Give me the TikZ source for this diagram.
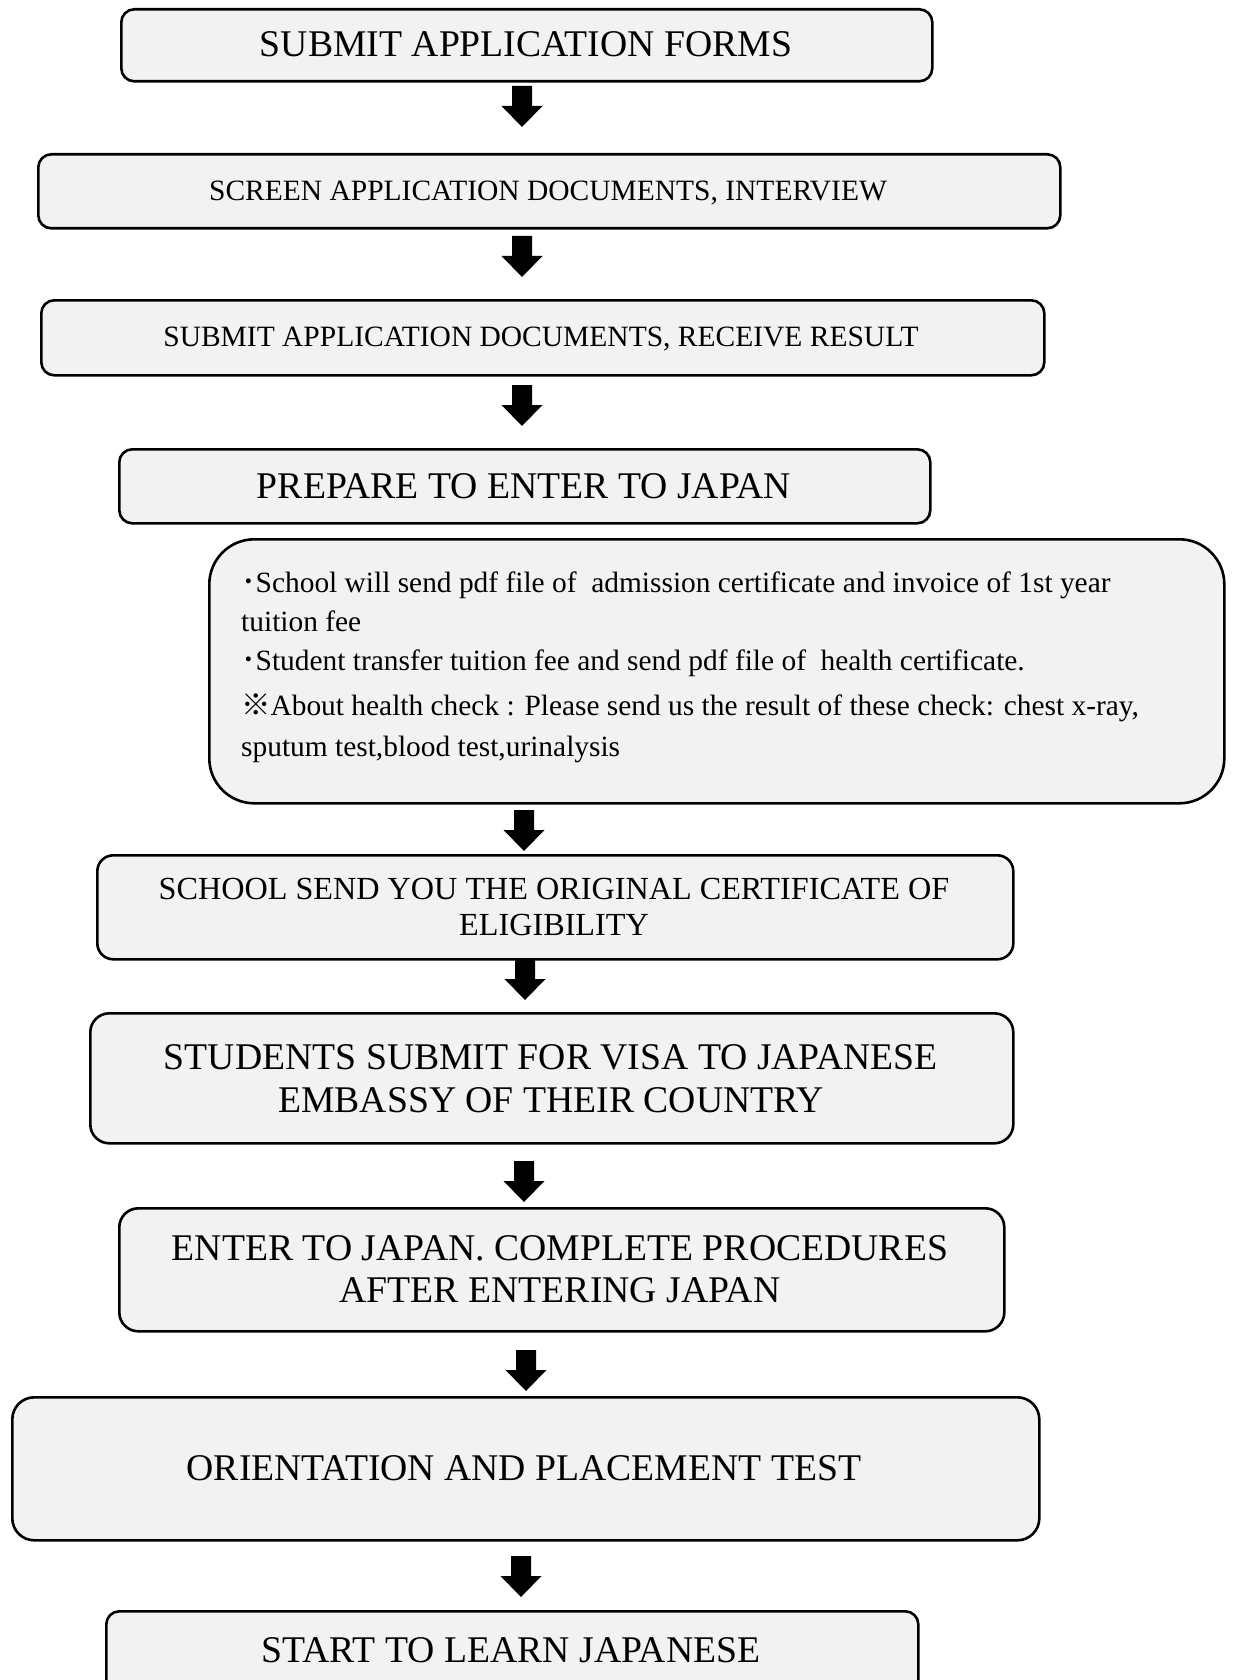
\documentclass[tikz,border=0pt]{standalone}
\usepackage{fontspec}
\setmainfont{Liberation Serif}
\newfontfamily\cjk{Noto Sans CJK JP}
\definecolor{boxfill}{HTML}{F2F2F2}
\tikzset{
  box/.style={draw=black, line width=2.6pt, fill=boxfill, rounded corners=13pt, inner sep=0pt, anchor=north west},
  bigtxt/.style={font=\fontsize{37.7}{42}\selectfont, anchor=base, inner sep=0pt},
  smalltxt/.style={font=\fontsize{29.5}{35}\selectfont, anchor=base, inner sep=0pt},
  midtxt/.style={font=\fontsize{32.2}{36}\selectfont, anchor=base, inner sep=0pt},
  notetxt/.style={font=\fontsize{29.4}{39}\selectfont, anchor=base west, inner sep=0pt},
}
\newcommand\downblock[1]{\fill[black] (#1) ++(-10,0) -- ++(20,0) -- ++(0,20) -- ++(10.5,0) -- ++(-20.5,21) -- ++(-20.5,-21) -- ++(10.5,0) -- cycle;}
\newcommand\hdot{\makebox[14.5pt][c]{\cjk ･}}
\begin{document}
\begin{tikzpicture}[x=1pt,y=-1pt]
\useasboundingbox[fill=white] (0,0) rectangle (1233,1680);
% boxes
\node[box, minimum width=811pt, minimum height=72pt] (b1) at (120,8) {};
\node[box, minimum width=1022pt, minimum height=74pt] (b2) at (37,153) {};
\node[box, minimum width=1003pt, minimum height=75pt] (b3) at (40,299) {};
\node[box, minimum width=811pt, minimum height=74pt] (b4) at (118,448) {};
\node[box, rounded corners=45pt, minimum width=1015pt, minimum height=264pt] (b5) at (208,538) {};
\node[box, rounded corners=16pt, minimum width=916pt, minimum height=104pt] (b6) at (96,854) {};
\node[box, rounded corners=19pt, minimum width=923pt, minimum height=130pt] (b7) at (89,1012) {};
\node[box, rounded corners=19pt, minimum width=885pt, minimum height=123pt] (b8) at (118,1207) {};
\node[box, rounded corners=22pt, minimum width=1027pt, minimum height=143pt] (b9) at (11,1396) {};
\node[box, minimum width=812pt, minimum height=100pt] (b10) at (105,1610) {};
% texts
\node[bigtxt] (t1) at (526,57) {SUBMIT APPLICATION FORMS};
\node[smalltxt] (t2) at (548,201) {SCREEN APPLICATION DOCUMENTS, INTERVIEW};
\node[smalltxt] (t3) at (541,346.5) {SUBMIT APPLICATION DOCUMENTS, RECEIVE RESULT};
\node[bigtxt] (t4) at (524,498) {PREPARE TO ENTER TO JAPAN};
\node[notetxt] (n1) at (241,592) {\hdot School will send pdf file of\ \ admission certificate and invoice of 1st year};
\node[notetxt] (n2) at (241,631) {tuition fee};
\node[notetxt] (n3) at (241,670) {\hdot Student transfer tuition fee and send pdf file of\ \ health certificate.};
\node[notetxt] (n4) at (241,715) {{\cjk ※}About health check : Please send us the result of these check: chest x-ray,};
\node[notetxt] (n5) at (241,756) {sputum test,blood test,urinalysis};
\node[midtxt] (t6a) at (554,899.5) {SCHOOL SEND YOU THE ORIGINAL CERTIFICATE OF};
\node[midtxt] (t6b) at (554,935.5) {ELIGIBILITY};
\node[bigtxt] (t7a) at (551,1069) {STUDENTS SUBMIT FOR VISA TO JAPANESE};
\node[bigtxt] (t7b) at (551,1112) {EMBASSY OF THEIR COUNTRY};
\node[bigtxt] (t8a) at (560,1260) {ENTER TO JAPAN. COMPLETE PROCEDURES};
\node[bigtxt] (t8b) at (560,1302) {AFTER ENTERING JAPAN};
\node[bigtxt] (t9) at (524,1480) {ORIENTATION AND PLACEMENT TEST};
\node[bigtxt] (t10) at (511,1662) {START TO LEARN JAPANESE};
% arrows
\coordinate (a1) at (522,86);
\coordinate (a2) at (522,236);
\coordinate (a3) at (522,385);
\coordinate (a4) at (524,810);
\coordinate (a5) at (525,959);
\coordinate (a6) at (524,1161);
\coordinate (a7) at (526,1350);
\coordinate (a8) at (521,1556);
\downblock{a1}\downblock{a2}\downblock{a3}\downblock{a4}
\downblock{a5}\downblock{a6}\downblock{a7}\downblock{a8}
\end{tikzpicture}
\end{document}
